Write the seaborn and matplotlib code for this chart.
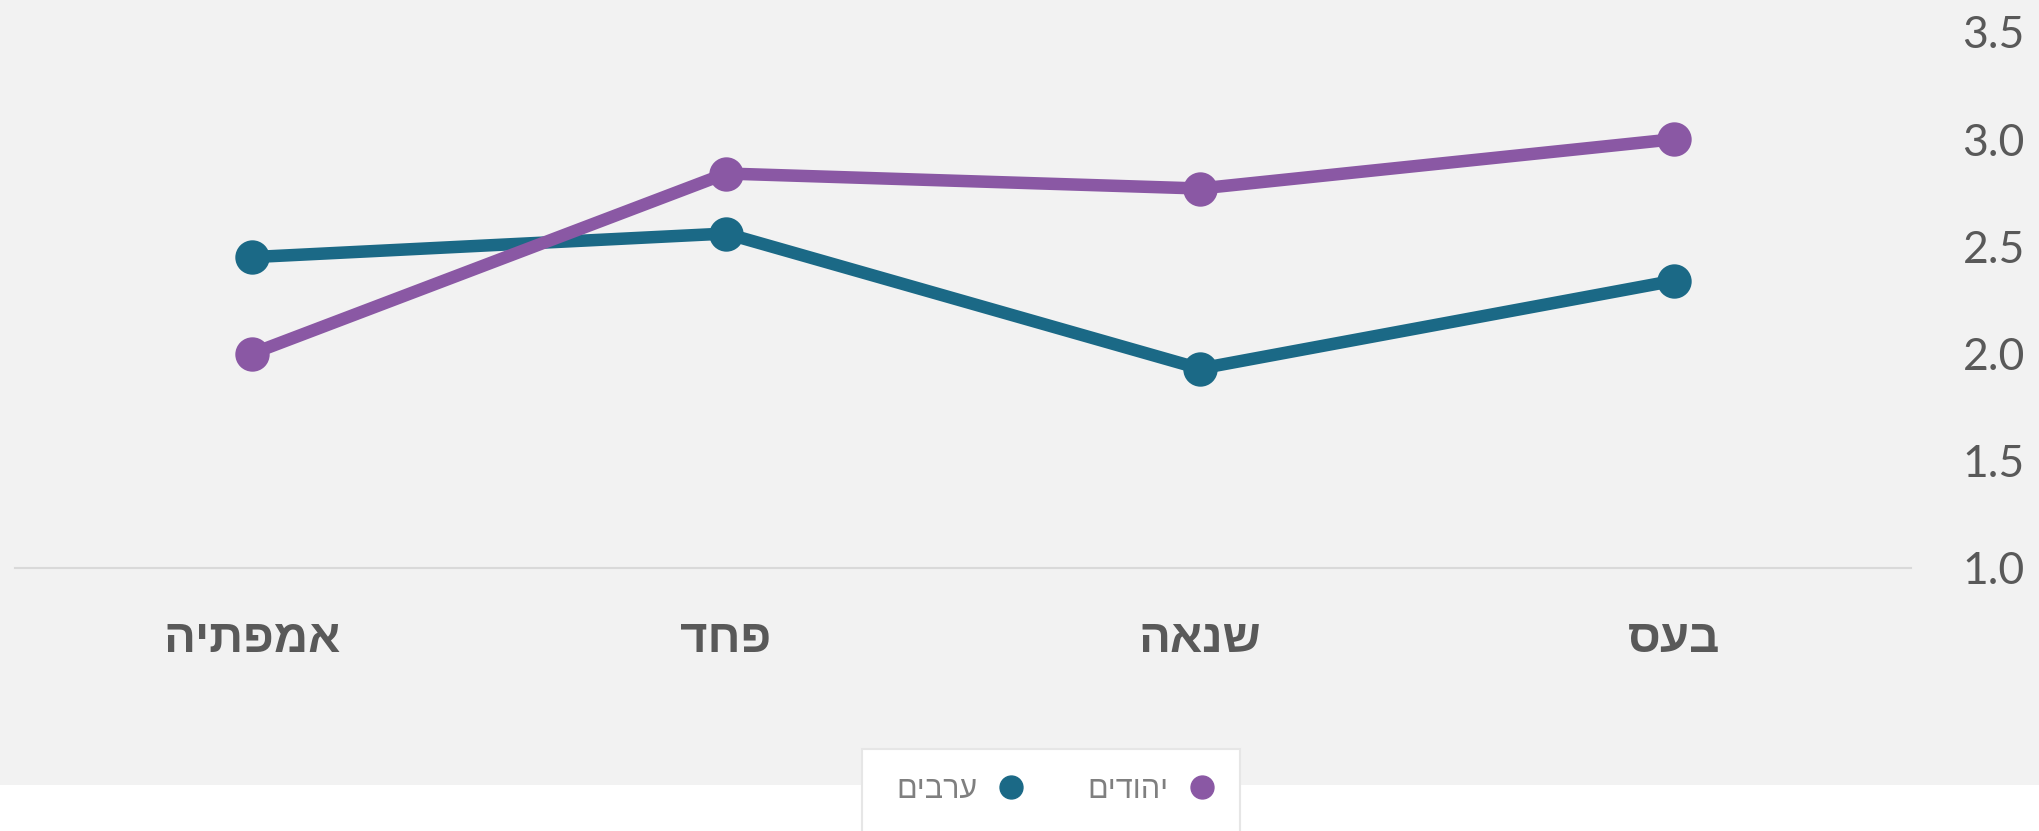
import pandas as pd
import seaborn as sns
import matplotlib.pyplot as plt
from matplotlib.lines import Line2D
from matplotlib.patches import Rectangle

# Emotions, left to right as in the chart
EMOTIONS = ["אמפתיה", "פחד", "שנאה", "בעס"]
GROUPS = ["ערבים", "יהודים"]
ARABS = [2.45, 2.56, 1.93, 2.34]
JEWS = [2.00, 2.84, 2.77, 3.00]
Y_TICKS = [1.0, 1.5, 2.0, 2.5, 3.0, 3.5]

COLORS = {"ערבים": "#1B6986", "יהודים": "#8A58A4"}
BG = "#F2F2F2"
TEXT = "#595959"
FONTS = ["Open Sans", "DejaVu Sans"]
HEB_FONTS = ["Liberation Sans", "Open Sans", "DejaVu Sans"]


def rtl(text):
    """matplotlib has no bidi support, so flip Hebrew for display."""
    return text[::-1]


def build_frame():
    """Long-format frame for seaborn."""
    rows = []
    for group, values in zip(GROUPS, [ARABS, JEWS]):
        for emotion, value in zip(EMOTIONS, values):
            rows.append({"emotion": emotion, "group": group, "score": value})
    return pd.DataFrame(rows)


def plot_chart(df):
    """Draw the two-series line chart and save it."""
    sns.set_theme(style="white")
    plt.rcParams["font.family"] = FONTS

    fig = plt.figure(figsize=(20.39, 8.31), dpi=100, facecolor="white")
    # grey panel behind the plot, white strip at the bottom
    fig.patches.append(Rectangle((0, 46 / 831), 1, 1, transform=fig.transFigure,
                                 facecolor=BG, edgecolor="none", zorder=-10))
    ax = fig.add_axes([15 / 2039, 263 / 831, 1896 / 2039, 536 / 831])
    ax.set_facecolor(BG)

    sns.pointplot(data=df, x="emotion", y="score", hue="group",
                  order=EMOTIONS, hue_order=GROUPS, palette=COLORS,
                  markers="o", linestyles="-", errorbar=None, legend=False,
                  markersize=18, linewidth=9, ax=ax)

    ax.set_xlim(-0.5, len(EMOTIONS) - 0.5)
    ax.set_ylim(Y_TICKS[0], Y_TICKS[-1])
    ax.set_xticks(range(len(EMOTIONS)), [rtl(e) for e in EMOTIONS])
    ax.set_yticks(Y_TICKS, [f"{t:.1f}" for t in Y_TICKS])
    ax.yaxis.tick_right()
    ax.tick_params(axis="x", length=0, pad=36, labelcolor=TEXT)
    ax.tick_params(axis="y", length=0, pad=37, labelcolor=TEXT)
    for lbl in ax.get_xticklabels():
        lbl.set_fontweight("bold")
        lbl.set_fontsize(34)
        lbl.set_family(HEB_FONTS)
    for lbl in ax.get_yticklabels():
        lbl.set_fontsize(32)
        lbl.set_family(["Lato", "DejaVu Sans"])
    ax.set_xlabel("")
    ax.set_ylabel("")
    ax.grid(False)
    for side in ["top", "left", "right"]:
        ax.spines[side].set_visible(False)
    ax.spines["bottom"].set_color("#D9D9D9")
    ax.spines["bottom"].set_linewidth(1.5)

    # legend box at the bottom centre
    fig.patches.append(Rectangle((862 / 2039, -0.01), 378 / 2039, (831 - 749) / 831 + 0.01,
                                 transform=fig.transFigure, facecolor="white",
                                 edgecolor="#E6E6E6", linewidth=1.5, zorder=5))
    handles = [Line2D([], [], marker="o", linestyle="none", markersize=16.5,
                      color=COLORS[g]) for g in GROUPS]
    leg = fig.legend(handles, [rtl(g) for g in GROUPS], loc="center",
                     bbox_to_anchor=(1057 / 2039, 41 / 831), ncol=2,
                     markerfirst=False, frameon=False,
                     prop={"family": HEB_FONTS, "size": 22},
                     handlelength=1.0, handletextpad=0.6, columnspacing=2.0,
                     labelcolor="#7F7F7F")
    leg.set_zorder(6)

    fig.savefig("out.png", dpi=100, facecolor="white")
    plt.close(fig)


if __name__ == "__main__":
    plot_chart(build_frame())
